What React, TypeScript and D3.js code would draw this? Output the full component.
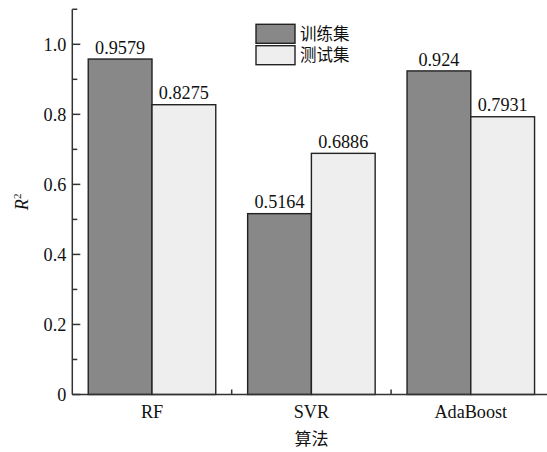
import React from "react";
import * as d3 from "d3";

const categories = ["RF", "SVR", "AdaBoost"];
const seriesNames = ["训练集", "测试集"];
const trainValues = [0.9579, 0.5164, 0.924];
const testValues = [0.8275, 0.6886, 0.7931];
const trainLabels = ["0.9579", "0.5164", "0.924"];
const testLabels = ["0.8275", "0.6886", "0.7931"];
const majorTicks = [0, 0.2, 0.4, 0.6, 0.8, 1.0];
const majorTickLabels = ["0", "0.2", "0.4", "0.6", "0.8", "1.0"];
const minorTicks = [0.1, 0.3, 0.5, 0.7, 0.9, 1.1];

const colors = ["#888888", "#eeeeee"];
const serif = "'Liberation Serif', 'Times New Roman', serif";
const cjk = "'Noto Sans CJK SC', sans-serif";

const App: React.FC = () => {
  const width = 547,
    height = 452;
  const left = 72.3,
    bottom = 394.5;

  const x = d3
    .scaleBand<string>()
    .domain(categories)
    .range([left, left + 3 * 159.4])
    .padding(0);
  const y = d3.scaleLinear().domain([0, 1.1]).range([bottom, bottom - 1.1 * 350.2]);

  const bw = x.bandwidth();
  const barW = bw * 0.4;
  const series = [
    { values: trainValues, labels: trainLabels },
    { values: testValues, labels: testLabels },
  ];
  const axisColor = "#333";
  const fs = 18.2;

  return (
    <svg
      width={width}
      height={height}
      style={{ position: "absolute", left: 0, top: 0, background: "#fff" }}
    >
      {/* bars */}
      {categories.map((c, i) =>
        series.map((s, j) => {
          const bx = (x(c) || 0) + bw * 0.1 + j * barW;
          return (
            <g key={c + j}>
              <rect
                x={bx}
                y={y(s.values[i])}
                width={barW}
                height={bottom - y(s.values[i])}
                fill={colors[j]}
                stroke="#222"
                strokeWidth={1.4}
              />
              <text
                x={bx + barW / 2}
                y={y(s.values[i]) - 5.3}
                textAnchor="middle"
                fontFamily={serif}
                fontSize={fs}
                fill="#111"
              >
                {s.labels[i]}
              </text>
            </g>
          );
        })
      )}

      {/* y axis */}
      <line x1={left} x2={left} y1={bottom} y2={y(1.1)} stroke={axisColor} strokeWidth={1.5} />
      {majorTicks.map((t, i) => (
        <g key={"M" + t}>
          <line x1={left} x2={left + 8} y1={y(t)} y2={y(t)} stroke={axisColor} strokeWidth={1.5} />
          <text
            x={left - 6}
            y={y(t)}
            dy="0.35em"
            textAnchor="end"
            fontFamily={serif}
            fontSize={fs}
            fill="#111"
          >
            {majorTickLabels[i]}
          </text>
        </g>
      ))}
      {minorTicks.map((t) => (
        <line key={"m" + t} x1={left} x2={left + 5} y1={y(t)} y2={y(t)} stroke={axisColor} strokeWidth={1.5} />
      ))}

      {/* x axis */}
      <line x1={left} x2={width} y1={bottom} y2={bottom} stroke={axisColor} strokeWidth={1.5} />
      {categories.slice(1).map((c) => (
        <line
          key={"xt" + c}
          x1={x(c) || 0}
          x2={x(c) || 0}
          y1={bottom}
          y2={bottom - 5}
          stroke={axisColor}
          strokeWidth={1.5}
        />
      ))}
      {categories.map((c) => (
        <text
          key={"xl" + c}
          x={(x(c) || 0) + bw / 2}
          y={bottom + 23.2}
          textAnchor="middle"
          fontFamily={serif}
          fontSize={fs}
          fill="#111"
        >
          {c}
        </text>
      ))}
      <text
        x={(x("SVR") || 0) + bw / 2}
        y={bottom + 50}
        textAnchor="middle"
        fontFamily={cjk}
        fontSize={17}
        fill="#111"
      >
        算法
      </text>

      {/* y label */}
      <text
        transform={`translate(28,${(bottom + y(1.1)) / 2}) rotate(-90)`}
        textAnchor="middle"
        fontFamily={serif}
        fontSize={fs}
        fill="#111"
      >
        <tspan fontStyle="italic">R</tspan>
        <tspan fontSize={11} dy={-7}>
          2
        </tspan>
      </text>

      {/* legend */}
      {seriesNames.map((n, i) => (
        <g key={n} transform={`translate(256,${24.3 + i * 21.4})`}>
          <rect width={39} height={19} fill={colors[i]} stroke="#222" strokeWidth={1.4} />
          <text x={44} y={9.5} dy="0.35em" fontFamily={cjk} fontSize={16.5} fill="#111">
            {n}
          </text>
        </g>
      ))}
    </svg>
  );
};

export default App;
